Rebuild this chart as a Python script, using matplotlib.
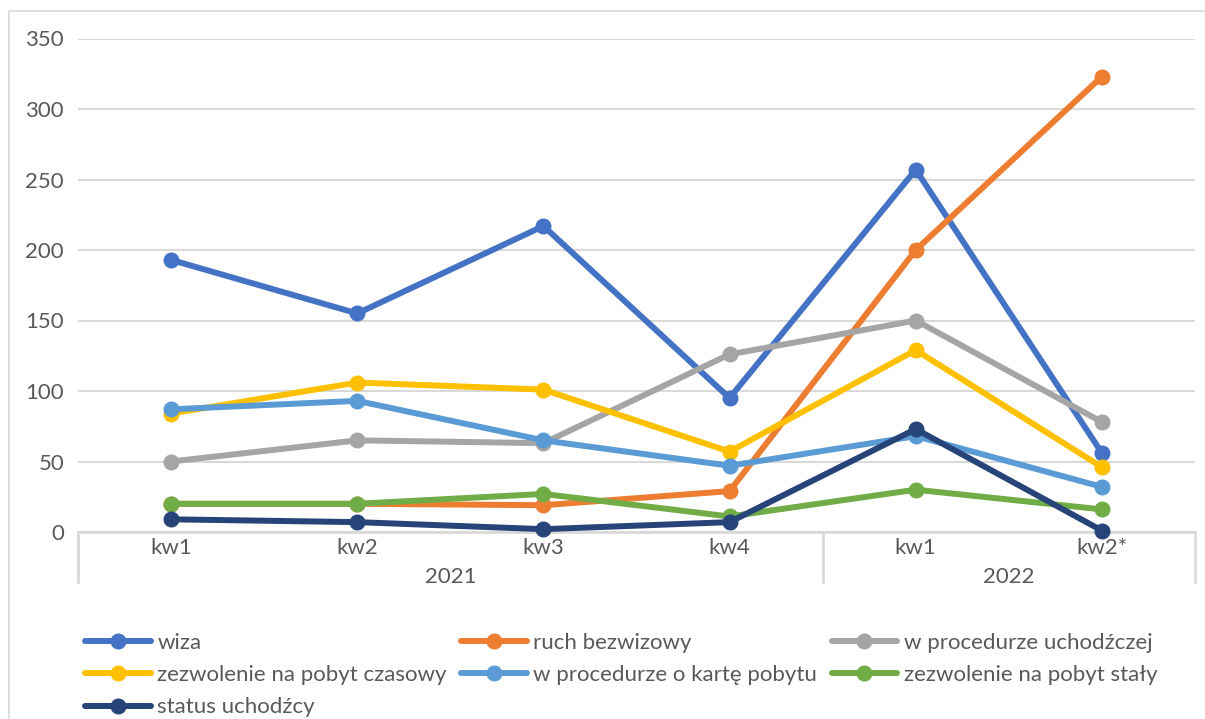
import matplotlib.pyplot as plt
from matplotlib.transforms import blended_transform_factory

plt.rcParams['font.family'] = ['Lato', 'DejaVu Sans']

# ============================================================
# Data
# ============================================================
quarters = ["kw1", "kw2", "kw3", "kw4", "kw1", "kw2*"]
years = ["2021", "2022"]
year_spans = [(0, 4), (4, 6)]  # quarter index ranges per year

wiza = [193, 155, 217, 95, 257, 56]
ruch_bezwizowy = [20, 20, 19, 29, 200, 323]
procedura_uchodzcza = [50, 65, 63, 126, 150, 78]
pobyt_czasowy = [84, 106, 101, 57, 129, 46]
karta_pobytu = [87, 93, 65, 47, 68, 32]
pobyt_staly = [20, 20, 27, 11, 30, 16]
status_uchodzcy = [9, 7, 2, 7, 73, 1]

series = [
    ("wiza", wiza, "#4472C4"),
    ("ruch bezwizowy", ruch_bezwizowy, "#ED7D31"),
    ("w procedurze uchodźczej", procedura_uchodzcza, "#A5A5A5"),
    ("zezwolenie na pobyt czasowy", pobyt_czasowy, "#FFC000"),
    ("w procedurze o kartę pobytu", karta_pobytu, "#5B9BD5"),
    ("zezwolenie na pobyt stały", pobyt_staly, "#70AD47"),
    ("status uchodźcy", status_uchodzcy, "#264478"),
]

text_color = "#595959"
grid_color = "#D9D9D9"
fs = 16

# ============================================================
# Figure
# ============================================================
W, H = 1205, 719
fig = plt.figure(figsize=(W / 100, H / 100), dpi=100)
ax = fig.add_axes([78 / W, 1 - 532 / H, (1195 - 78) / W, (532 - 38.5) / H])

x = list(range(len(quarters)))
lines = []
for name, values, color in series:
    ln, = ax.plot(x, values, color=color, lw=4.3, marker="o", markersize=10.5,
                  solid_capstyle="round", label=name, clip_on=False, zorder=3)
    lines.append(ln)

ax.set_xlim(-0.5, len(quarters) - 0.5)
ax.set_ylim(0, 350)
ax.set_yticks(range(0, 351, 50))
ax.yaxis.grid(True, color=grid_color, lw=1.5)
ax.set_axisbelow(True)

for side in ["top", "right", "left"]:
    ax.spines[side].set_visible(False)
ax.spines["bottom"].set_color(grid_color)
ax.spines["bottom"].set_linewidth(2)

ax.tick_params(axis="y", length=0, pad=10, labelsize=fs, labelcolor=text_color)
ax.set_xticks(x)
ax.set_xticklabels(quarters)
ax.tick_params(axis="x", length=0, pad=4, labelsize=fs, labelcolor=text_color)

# year labels and separators under the category axis
trans = blended_transform_factory(ax.transData, ax.transAxes)
sep_bottom = -(582 - 532) / (532 - 38.5)
for year, (a, b) in zip(years, year_spans):
    ax.text((a + b - 1) / 2, -(577 - 532) / (532 - 38.5), year, transform=trans,
            ha="center", va="center", fontsize=fs, color=text_color)
for edge in [-0.5, 3.5, 5.5]:
    ax.plot([edge, edge], [0, sep_bottom], transform=trans, color=grid_color,
            lw=2, clip_on=False)

# outer chart frame
fig.patches.append(plt.Rectangle((9 / W, -0.1), 1.2, 1 - 11 / H + 0.1,
                                 transform=fig.transFigure, fill=False,
                                 edgecolor=grid_color, lw=1.2))

# legend filled row by row (matplotlib fills columns first)
order = [0, 3, 6, 1, 4, 2, 5]
leg = fig.legend([lines[i] for i in order], [series[i][0] for i in order],
                 loc="upper left", bbox_to_anchor=(85 / W, 1 - 633 / H), ncol=3,
                 frameon=False, fontsize=fs, handlelength=2.95, handletextpad=0.3,
                 columnspacing=0.65, labelspacing=0.55, borderpad=0, borderaxespad=0)
for t in leg.get_texts():
    t.set_color(text_color)

fig.savefig("out.png", dpi=100)
